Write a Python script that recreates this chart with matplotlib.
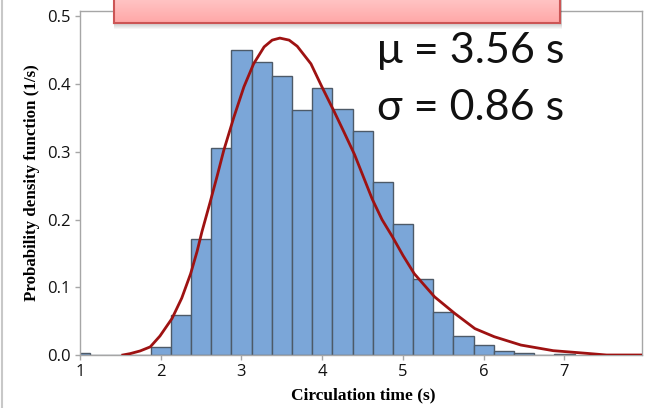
import matplotlib
matplotlib.use('Agg')
import matplotlib.pyplot as plt
from matplotlib.patches import Rectangle
from matplotlib.lines import Line2D
import numpy as np

# histogram: left bin edges (s) and density (1/s)
bin_left = [0.875, 1.125, 1.375, 1.625, 1.875, 2.125, 2.375, 2.625, 2.875, 3.125,
            3.375, 3.625, 3.875, 4.125, 4.375, 4.625, 4.875, 5.125, 5.375, 5.625,
            5.875, 6.125, 6.375, 6.625, 6.875]
density = [0.0025, 0.0, 0.0, 0.0, 0.012, 0.0585, 0.1716, 0.306, 0.450, 0.433,
           0.412, 0.362, 0.395, 0.364, 0.331, 0.255, 0.193, 0.1126, 0.063, 0.0285,
           0.0143, 0.0064, 0.0025, 0.0, 0.0015]
BIN_W = 0.25

# fitted density curve
curve_x = [1.53, 1.62, 1.745, 1.87, 1.99, 2.14, 2.26, 2.37, 2.45, 2.51, 2.61, 2.70,
           2.78, 2.905, 3.03, 3.15, 3.28, 3.38, 3.475, 3.59, 3.69, 3.86, 4.00, 4.15,
           4.27, 4.40, 4.51, 4.62, 4.74, 4.87, 5.00, 5.14, 5.39, 5.64, 5.89, 6.13,
           6.46, 6.86, 7.27, 7.52, 7.96]
curve_y = [0.000, 0.002, 0.006, 0.012, 0.028, 0.054, 0.084, 0.120, 0.153, 0.182, 0.225, 0.265,
           0.302, 0.351, 0.396, 0.430, 0.455, 0.465, 0.468, 0.465, 0.456, 0.430, 0.395, 0.359,
           0.329, 0.296, 0.263, 0.230, 0.200, 0.1745, 0.147, 0.120, 0.086, 0.0615, 0.039, 0.027,
           0.0147, 0.0064, 0.0025, 0.000, 0.000]

x_ticks = [1, 2, 3, 4, 5, 6, 7]
y_ticks = [0.0, 0.1, 0.2, 0.3, 0.4, 0.5]
stats_text = ['\u03bc = 3.56 s', '\u03c3 = 0.86 s']

W, H = 648, 408
fig = plt.figure(figsize=(W / 100, H / 100), dpi=100)
ax = fig.add_axes([80 / W, 1 - 355 / H, 562 / W, 344 / H])

ax.bar(bin_left, density, width=BIN_W, align='edge', color='#7ba6d8',
       edgecolor='#4d5a68', linewidth=1.0, zorder=2)
ax.plot(curve_x, curve_y, color='#9e1212', linewidth=2.0, zorder=3)

ax.set_xlim(1, 7.96)
ax.set_ylim(0, 0.508)
ax.set_xticks(x_ticks)
ax.set_yticks(y_ticks)
ax.set_xticklabels([str(t) for t in x_ticks])
ax.set_yticklabels([f'{t:.1f}' for t in y_ticks])
for s in ax.spines.values():
    s.set_color('#a6a6a6')
    s.set_linewidth(1.0)
ax.tick_params(direction='out', length=3.5, width=1.0, color='#a6a6a6',
               labelsize=12, pad=3)
for lbl in ax.get_xticklabels() + ax.get_yticklabels():
    lbl.set_family('Open Sans')
    lbl.set_color('#111111')

# axis titles placed in figure pixels
fig.text(363 / W, 1 - 395 / H, 'Circulation time (s)', family='Liberation Serif',
         fontweight='bold', fontsize=12.5, ha='center', va='center')
fig.text(32 / W, 1 - 183 / H, 'Probability density function (1/s)',
         family='Liberation Serif', fontweight='bold', fontsize=12.2,
         ha='center', va='center', rotation=90)

# stats text
for i, t in enumerate(stats_text):
    fig.text(377 / W, 1 - (63 + 57 * i) / H, t, family='Lato', fontsize=31,
             va='baseline', ha='left', color='#111111')

# pink banner cut at the top, with a soft shadow
bx0, bx1, by = 114, 560, 22.5
for k in range(6, 0, -1):
    fig.patches.append(Rectangle((bx0 / W, 1 - (by + k) / H), (bx1 - bx0 + 2) / W,
                                 (by + k + 5) / H, transform=fig.transFigure,
                                 facecolor='#000000', alpha=0.035, edgecolor='none',
                                 zorder=5))
bax = fig.add_axes([bx0 / W, 1 - by / H, (bx1 - bx0) / W, (by + 2) / H], zorder=6)
grad = np.linspace(0, 1, 50).reshape(-1, 1)
top_c = np.array([1.0, 0.78, 0.78])
bot_c = np.array([1.0, 0.66, 0.66])
img = top_c + grad[..., None] * (bot_c - top_c)
bax.imshow(img, aspect='auto', extent=[0, 1, 0, 1])
bax.set_xticks([])
bax.set_yticks([])
for s in bax.spines.values():
    s.set_color('#cc5555')
    s.set_linewidth(1.5)
bax.spines['top'].set_visible(False)

# thin grey border on the left edge of the picture
fig.lines.append(Line2D([1.5 / W, 1.5 / W], [0, 1], transform=fig.transFigure,
                        color='#c8c8c8', linewidth=1.5))

fig.savefig('out.png', dpi=100)
